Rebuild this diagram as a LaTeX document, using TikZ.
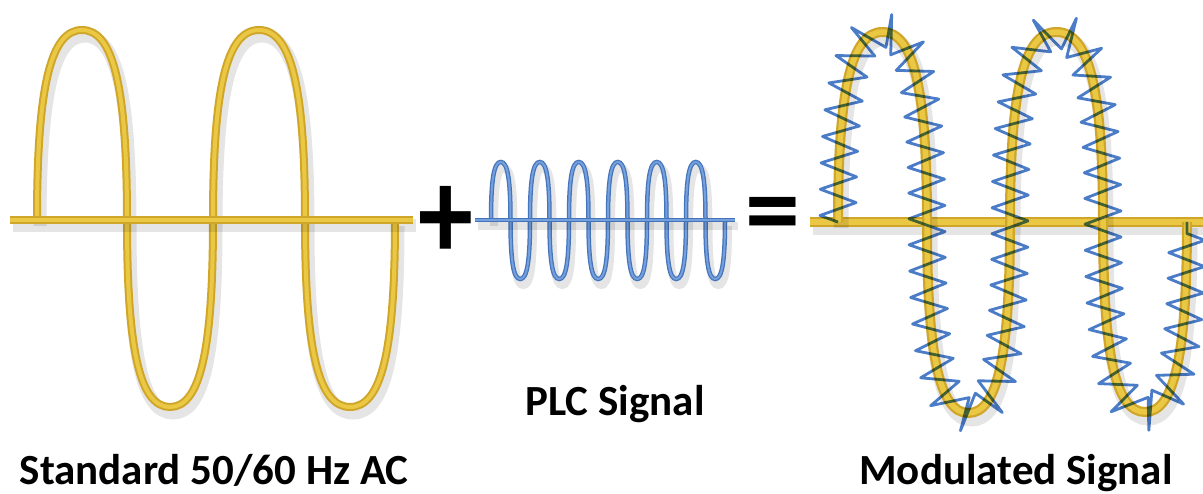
\documentclass[tikz,border=0pt]{standalone}
\usepackage{fontspec}
\setmainfont{Carlito}
\usetikzlibrary{decorations.pathmorphing}
\definecolor{acdark}{HTML}{CFA629}
\definecolor{aclight}{HTML}{EBC843}
\definecolor{plcdark}{HTML}{4574BA}
\definecolor{plclight}{HTML}{74A0DD}
\definecolor{coilblue}{HTML}{4A7CC8}
% one half-wave: half width #1, signed height #2
\newcommand{\halfwave}[2]{%
  .. controls +(0,{0.7*(#2)}) and +({-0.7*(#1)},0) .. ++(#1,#2)
  .. controls +({0.7*(#1)},0) and +(0,{0.7*(#2)}) .. ++(#1,{-(#2)})}
\tikzset{
  softshadow/.style={preaction={draw=black,opacity=0.10,line width=#1,transform canvas={shift={(3pt,-6pt)}}}},
  acline/.style={draw=acdark,line width=8pt,softshadow=13pt,postaction={draw=aclight,line width=4pt}},
  modline/.style={draw=acdark,line width=10pt,softshadow=15pt,postaction={draw=aclight,line width=5.5pt}},
  plcline/.style={draw=plcdark,line width=4.5pt,softshadow=8pt,postaction={draw=plclight,line width=2pt}},
  coilline/.style={draw=coilblue,line width=2.8pt,line join=round,decorate,
    decoration={zigzag,amplitude=18pt,segment length=26pt}},
  label/.style={font=\fontsize{43}{50}\selectfont\bfseries,inner sep=0pt,anchor=base},
  opsign/.style={font=\fontsize{110}{120}\selectfont\bfseries,inner sep=0pt}
}
\begin{document}
\begin{tikzpicture}[x=1pt,y=1pt]
\fill[white] (0,0) rectangle (1203,-494);
\useasboundingbox (0,0) rectangle (1203,-494);

% ---- Standard AC ----
\draw[acline] (37,-220) coordinate (ac0)
  \halfwave{45}{190} \halfwave{43}{-187} \halfwave{46}{190} \halfwave{45}{-187};
\draw[acline] (10,-220) coordinate (acL) -- (413,-220) coordinate (acR);
\node[label] (aclabel) at (214,-484) {Standard 50/60 Hz AC};

% ---- plus ----
\node[opsign] (plus) at (446,-223) {\scalebox{1}[1.2]{+}};

% ---- PLC signal ----
\draw[plcline] (491,-220) coordinate (plc0)
  \foreach \i in {0,...,5}{ \halfwave{9.75}{58} \halfwave{9.75}{-59} };
\draw[plcline] (475,-220) coordinate (plcL) -- (735,-220) coordinate (plcR);
\node[label] (plclabel) at (615,-416) {PLC Signal};

% ---- equals ----
\node[opsign] (eq) at (773,-222) {=};

% ---- Modulated signal ----
\draw[modline] (810,-222) coordinate (modL) -- (1203,-222) coordinate (modR);
\draw[modline] (838,-222) coordinate (mod0)
  \halfwave{44.5}{190} \halfwave{41.5}{-191} \halfwave{46.5}{190} \halfwave{42}{-190};
\begin{scope}[blend mode=multiply]
\draw[coilline] (838,-222)
  \halfwave{44.5}{190} \halfwave{41.5}{-191} \halfwave{46.5}{190} \halfwave{42}{-190};
\end{scope}
\node[label] (modlabel) at (1016,-484) {Modulated Signal};
\end{tikzpicture}
\end{document}
